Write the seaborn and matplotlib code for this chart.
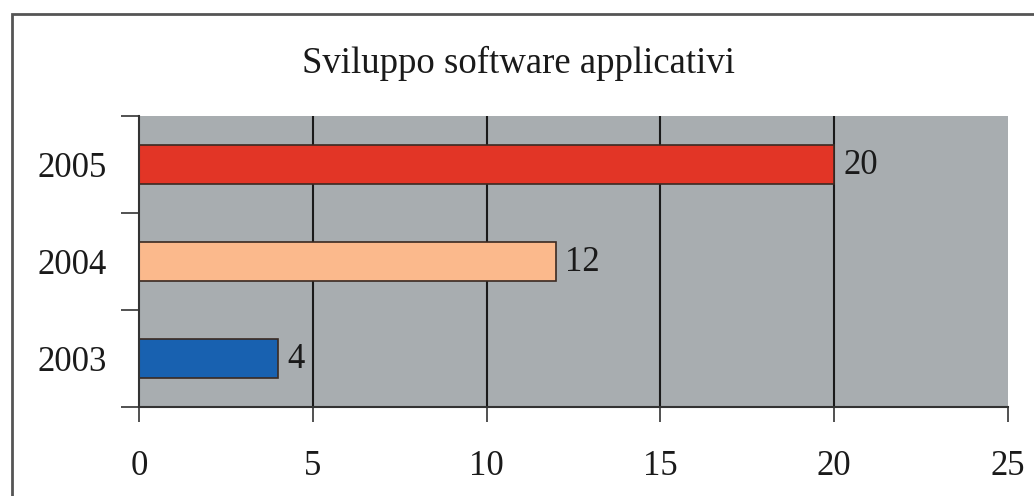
import pandas as pd
import matplotlib
matplotlib.use("Agg")
import matplotlib.pyplot as plt
from matplotlib.patches import Rectangle
import seaborn as sns

years = ["2005", "2004", "2003"]
values = [20, 12, 4]
colors = ["#e23526", "#fbb98c", "#1861b0"]
title = "Sviluppo software applicativi"

sns.set_theme(style="white")
plt.rcParams['font.family'] = ['Liberation Serif', 'DejaVu Serif']

df = pd.DataFrame({"year": years, "value": values})

fig = plt.figure(figsize=(10.34, 4.96), dpi=100)
# outer frame of the chart object (runs off the right / bottom of the picture)
fig.patches.append(Rectangle((12 / 1034, -0.1), 1.2, 1 - 14 / 496 + 0.1,
                             transform=fig.transFigure, fill=False,
                             edgecolor="#555555", linewidth=2.0))

ax = fig.add_axes([139 / 1034, 1 - 407 / 496, 869 / 1034, 291 / 496])
ax.set_facecolor("#a8adb0")

sns.barplot(data=df, x="value", y="year", hue="year", order=years,
            palette=dict(zip(years, colors)), width=0.4, legend=False,
            edgecolor="#3a2a22", linewidth=1.2, saturation=1, ax=ax)

ax.set_xlim(0, 25)
ax.set_ylim(2.5, -0.5)
ax.set_xticks([0, 5, 10, 15, 20, 25])
ax.set_xticklabels(["0", "5", "10", "15", "20", "25"])
for v in [5, 10, 15, 20]:
    ax.axvline(v, color="#1a1a1a", linewidth=1.5, zorder=0.5)

ax.set_yticks([-0.5, 0.5, 1.5, 2.5], minor=True)
ax.tick_params(axis="y", which="major", length=0, pad=23, labelsize=25, labelcolor="#1a1a1a")
ax.tick_params(axis="y", which="minor", left=True, length=13, width=1.2, color="#333333")
ax.tick_params(axis="x", which="major", bottom=True, length=11, width=1.2, color="#333333",
               pad=20, labelsize=25, labelcolor="#1a1a1a")
ax.set_xlabel("")
ax.set_ylabel("")

for s in ["top", "right"]:
    ax.spines[s].set_visible(False)
for s in ["left", "bottom"]:
    ax.spines[s].set_color("#333333")
    ax.spines[s].set_linewidth(1.5)

for i, v in enumerate(values):
    ax.annotate(str(v), (v, i), xytext=(6.5, -1), textcoords="offset points",
                va="center", ha="left", fontsize=25, color="#1a1a1a")

fig.text(518 / 1034, 1 - 63 / 496, title, ha="center", va="center",
         fontsize=26.5, color="#1a1a1a")

fig.savefig("out.png", dpi=100)
